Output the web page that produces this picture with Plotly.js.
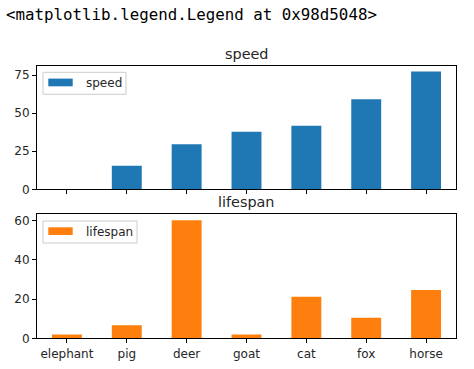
<!DOCTYPE html>
<html><head><meta charset="utf-8">
<script src="https://cdn.plot.ly/plotly-3.0.1.min.js"></script>
<style>html,body{margin:0;padding:0;background:#fff}</style>
</head><body><div id="chart" style="width:474px;height:369px"></div>
<script>
const animals = ["elephant", "pig", "deer", "goat", "cat", "fox", "horse"];
const speed = [0.1, 15.5, 29.6, 37.9, 41.8, 59.2, 77.4];
const lifespan = [2.0, 6.6, 60.2, 2.0, 21.2, 10.5, 24.6];
const speedTicks = [0, 25, 50, 75];
const lifespanTicks = [0, 20, 40, 60];
const colors = ["#1f77b4", "#ff7f0e"];

const W = 474, H = 369;
const px = v => v / W, py = v => 1 - v / H;
const font = {family: "DejaVu Sans, sans-serif", size: 12, color: "#262626"};
const xdom = [px(37), px(456)];
const axisCommon = {showline: true, mirror: true, linecolor: "#000", linewidth: 1,
  ticks: "outside", ticklen: 4, tickwidth: 1, tickcolor: "#000", showgrid: false, zeroline: false,
  tickfont: font};

const traces = [
  {type: "bar", x: animals, y: speed, name: "speed", xaxis: "x", yaxis: "y",
   marker: {color: colors[0]}, width: 0.5},
  {type: "bar", x: animals, y: lifespan, name: "lifespan", xaxis: "x2", yaxis: "y2",
   marker: {color: colors[1]}, width: 0.5}
];

// manual matplotlib-style legends
function legendParts(name, color, top, boxRight) {
  const shapes = [
    {type: "rect", xref: "paper", yref: "paper", x0: px(43), x1: px(boxRight),
     y0: py(top), y1: py(top + 22), line: {color: "#cccccc", width: 1}, fillcolor: "rgba(255,255,255,0.8)"},
    {type: "rect", xref: "paper", yref: "paper", x0: px(48.3), x1: px(72.7),
     y0: py(top + 6.3), y1: py(top + 14), line: {width: 0}, fillcolor: color}
  ];
  const ann = {text: name, xref: "paper", yref: "paper", x: px(83.5), y: py(top + 10.5),
    xanchor: "left", yanchor: "middle", showarrow: false, font: font};
  return {shapes, ann};
}
const L1 = legendParts(traces[0].name, colors[0], 72.3, 126);
const L2 = legendParts(traces[1].name, colors[1], 221, 137);

const layout = {
  width: W, height: H, margin: {l: 0, r: 0, t: 0, b: 0},
  paper_bgcolor: "#fff", plot_bgcolor: "#fff", font: font,
  showlegend: false,
  xaxis: Object.assign({}, axisCommon, {domain: xdom, anchor: "y", type: "category",
    range: [-0.5, 6.5], showticklabels: false}),
  yaxis: Object.assign({}, axisCommon, {domain: [py(189.3), py(65.7)], anchor: "x",
    range: [0, Math.max(...speed)*1.05], tickvals: speedTicks}),
  xaxis2: Object.assign({}, axisCommon, {domain: xdom, anchor: "y2", type: "category",
    range: [-0.5, 6.5]}),
  yaxis2: Object.assign({}, axisCommon, {domain: [py(338.3), py(214.3)], anchor: "x2",
    range: [0, Math.max(...lifespan)*1.05], tickvals: lifespanTicks}),
  shapes: [...L1.shapes, ...L2.shapes],
  annotations: [
    {text: "&lt;matplotlib.legend.Legend at 0x98d5048&gt;", xref: "paper", yref: "paper",
     x: px(4), y: py(3), xanchor: "left", yanchor: "top", showarrow: false,
     font: {family: "DejaVu Sans Mono, monospace", size: 15.8, color: "#000"}},
    {text: "speed", xref: "paper", yref: "paper", x: px(246.5), y: py(64),
     xanchor: "center", yanchor: "bottom", showarrow: false,
     font: {family: "DejaVu Sans, sans-serif", size: 14.4, color: "#262626"}},
    {text: "lifespan", xref: "paper", yref: "paper", x: px(246.5), y: py(212),
     xanchor: "center", yanchor: "bottom", showarrow: false,
     font: {family: "DejaVu Sans, sans-serif", size: 14.4, color: "#262626"}},
    L1.ann, L2.ann
  ]
};
Plotly.newPlot("chart", traces, layout, {displayModeBar: false, staticPlot: true});
</script></body></html>
